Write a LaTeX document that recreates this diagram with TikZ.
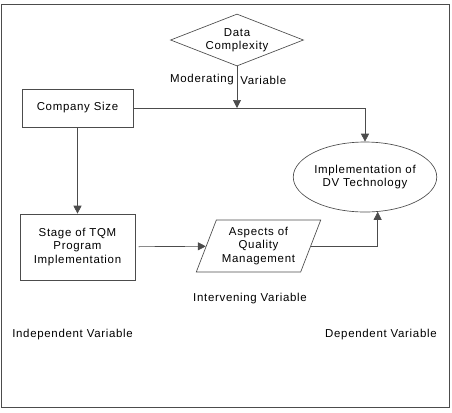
\documentclass[tikz,border=0pt]{standalone}
\usepackage{fontspec}
\setmainfont{Liberation Sans}[LetterSpace=6]
\usetikzlibrary{shapes.geometric,arrows.meta,positioning}

\begin{document}
\begin{tikzpicture}[x=0.75pt, y=-0.75pt, font=\fontsize{8.6}{10}\selectfont]
    % Stili
    \tikzstyle{box}=[rectangle, draw=black!70, line width=0.5pt, align=center, inner sep=0pt]
    \tikzstyle{label}=[inner sep=0pt]
    \tikzstyle{line}=[draw=black!70, line width=0.5pt]
    \tikzstyle{arrow}=[line, -{Triangle[length=6pt,width=6pt]}]

    % Cornice
    \useasboundingbox (0,0) rectangle (452,412);
    \draw [line] (1.5,4.5) rectangle (449,407);

    % Nodi
    \node (data) [box, diamond, aspect=2.56, minimum width=99.75pt, minimum height=39pt] at (237,40) {\raisebox{2pt}{\begin{tabular}{@{}c@{}}Data\\Complexity\end{tabular}}};
    \node (size) [box, minimum width=83.25pt, minimum height=28.5pt] at (77.5,108) {Company Size};
    \node (stage) [box, minimum width=86.25pt, minimum height=49.5pt] at (77.5,247) {Stage of TQM\\Program\\Implementation};
    \node (aspects) [box, trapezium, trapezium left angle=65, trapezium right angle=115, trapezium stretches=true, minimum width=93.75pt, minimum height=39pt] at (258.5,246) {Aspects of\\Quality\\Management};
    \node (dvtech) [box, ellipse, minimum width=93pt, minimum height=52.5pt] at (365,177) {Implementation of\\DV Technology};

    % Etichette
    \node (modl) [label, anchor=east] at (234,80) {Moderating};
    \node (modr) [label, anchor=west] at (240,80) {Variable};
    \node (interv) [label] at (250,299) {Intervening Variable};
    \node (indep) [label, anchor=west] at (12,335) {Independent Variable};
    \node (dep) [label, anchor=east] at (437,335) {Dependent Variable};

    % Collegamenti
    \coordinate (join) at (data.south |- size.east);
    \draw [arrow] (size.east) -| (dvtech.north);
    \draw [arrow] (data.south) -- (join);
    \draw [arrow] (size) -- (stage);
    \draw [arrow, shorten <=2.5pt] (stage) -- (aspects);
    \draw [arrow] (aspects.east) -| (dvtech.-70);
\end{tikzpicture}
\end{document}
